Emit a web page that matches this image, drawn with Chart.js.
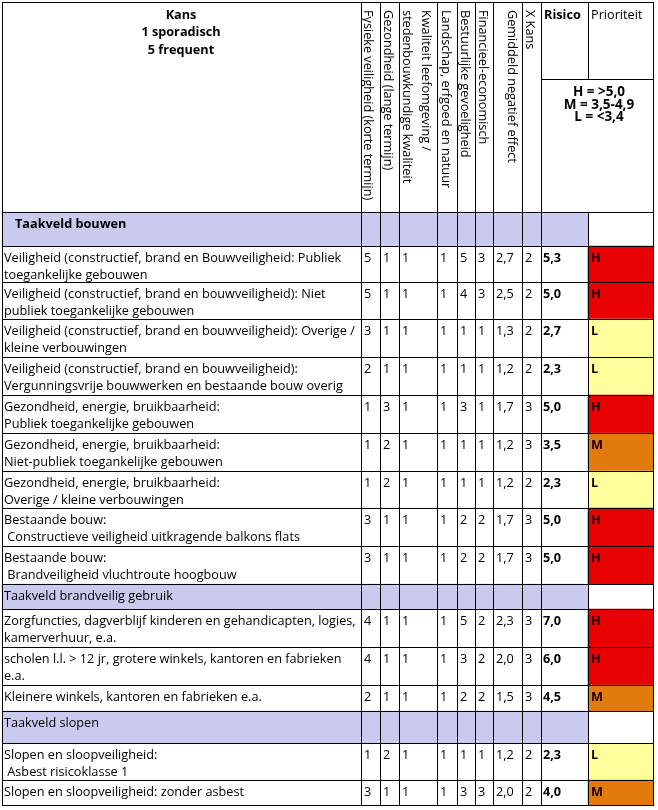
<!DOCTYPE html>
<html lang="nl">
<head>
<meta charset="utf-8">
<title>Risicoanalyse taakvelden</title>
<script src="https://cdn.jsdelivr.net/npm/chart.js@4/dist/chart.umd.min.js"></script>
<style>
  html, body { margin: 0; padding: 0; background: #fff; }
  canvas { display: block; }
</style>
</head>
<body>
<canvas id="tabel" width="658" height="810"></canvas>
<script>
// rijen van de tabel; de taakveld-koppen hebben geen scores
const omschrijving = [
  'Taakveld bouwen',
  'Veiligheid (constructief, brand en Bouwveiligheid: Publiek\ntoegankelijke gebouwen',
  'Veiligheid (constructief, brand en bouwveiligheid): Niet\npubliek toegankelijke gebouwen',
  'Veiligheid (constructief, brand en bouwveiligheid): Overige /\nkleine verbouwingen',
  'Veiligheid (constructief, brand en bouwveiligheid):\nVergunningsvrije bouwwerken en bestaande bouw overig',
  'Gezondheid, energie, bruikbaarheid:\nPubliek toegankelijke gebouwen',
  'Gezondheid, energie, bruikbaarheid:\nNiet-publiek toegankelijke gebouwen',
  'Gezondheid, energie, bruikbaarheid:\nOverige / kleine verbouwingen',
  'Bestaande bouw:\n Constructieve veiligheid uitkragende balkons flats',
  'Bestaande bouw:\n Brandveiligheid vluchtroute hoogbouw',
  'Taakveld brandveilig gebruik',
  'Zorgfuncties, dagverblijf kinderen en gehandicapten, logies,\nkamerverhuur, e.a.',
  'scholen l.l. > 12 jr, grotere winkels, kantoren en fabrieken\ne.a.',
  'Kleinere winkels, kantoren en fabrieken e.a.',
  'Taakveld slopen',
  'Slopen en sloopveiligheid:\n Asbest risicoklasse 1',
  'Slopen en sloopveiligheid: zonder asbest'
];
const taakveldRijen = [0, 10, 14];

const fysiek      = [null, 5, 5, 3, 2, 1, 1, 1, 3, 3, null, 4, 4, 2, null, 1, 3];
const gezondheid  = [null, 1, 1, 1, 1, 3, 2, 2, 1, 1, null, 1, 1, 1, null, 2, 1];
const kwaliteit   = [null, 1, 1, 1, 1, 1, 1, 1, 1, 1, null, 1, 1, 1, null, 1, 1];
const landschap   = [null, 1, 1, 1, 1, 1, 1, 1, 1, 1, null, 1, 1, 1, null, 1, 1];
const bestuurlijk = [null, 5, 4, 1, 1, 3, 1, 1, 2, 2, null, 5, 3, 2, null, 1, 3];
const financieel  = [null, 3, 3, 1, 1, 1, 1, 1, 2, 2, null, 2, 2, 2, null, 1, 3];
const gemiddeld   = [null, 2.7, 2.5, 1.3, 1.2, 1.7, 1.2, 1.2, 1.7, 1.7, null, 2.3, 2.0, 1.5, null, 1.2, 2.0];
const kans        = [null, 2, 2, 2, 2, 3, 3, 2, 3, 3, null, 3, 3, 3, null, 2, 2];
const risico      = [null, 5.3, 5.0, 2.7, 2.3, 5.0, 3.5, 2.3, 5.0, 5.0, null, 7.0, 6.0, 4.5, null, 2.3, 4.0];
const prioriteit  = [null, 'H', 'H', 'L', 'L', 'H', 'M', 'L', 'H', 'H', null, 'H', 'H', 'M', null, 'L', 'M'];

const kansTitel = ['Kans', '1 sporadisch', '5 frequent'];
const effectTitels = [
  ['Fysieke veiligheid (korte termijn)'],
  ['Gezondheid (lange termijn)'],
  ['Kwaliteit leefomgeving /', 'stedenbouwkundige kwaliteit'],
  ['Landschap, erfgoed en natuur'],
  ['Bestuurlijke gevoeligheid'],
  ['Financieel-economisch'],
  ['Gemiddeld negatief effect'],
  ['X Kans']
];
const legenda = ['H = >5,0', 'M = 3,5-4,9', 'L = <3,4'];

// opmaak
const kleurPrio = { H: '#e80000', M: '#e27a0c', L: '#ffff9b' };
const kleurTaakveld = '#c9caee';
const kolomRanden = [2, 361, 380, 399, 437, 457, 475, 493, 522, 541, 588, 653];
const rijRanden = [212, 246, 282, 319, 357, 395, 433, 471, 508, 546, 584, 609, 647, 685, 711, 743, 780, 805];
const kopBoven = 2, kopSplitsing = 79;
const titelX = [[368], [388], [426, 407], [446], [465], [483], [512], [530]];
const font = '"Open Sans", "Noto Sans", sans-serif';
const gewoon = '12.7px ' + font;
const vet = 'bold 12.7px ' + font;

const scoreKolommen = [fysiek, gezondheid, kwaliteit, landschap, bestuurlijk, financieel, gemiddeld, kans];
const komma = v => v.toFixed(1).replace('.', ',');

const prioMidden = (kolomRanden[10] + kolomRanden[11]) / 2;
const taakveldMidden = (kolomRanden[0] + kolomRanden[10]) / 2;

const prioData = [];
const prioKleuren = [];
prioriteit.forEach((p, i) => {
  if (p) {
    prioData.push({ x: prioMidden, y: [rijRanden[i], rijRanden[i + 1]] });
    prioKleuren.push(kleurPrio[p]);
  }
});
const taakveldData = taakveldRijen.map(i => ({ x: taakveldMidden, y: [rijRanden[i], rijRanden[i + 1]] }));

const tabelPlugin = {
  id: 'tabel',
  beforeDraw(chart) {
    const ctx = chart.ctx;
    ctx.save();
    ctx.fillStyle = '#fff';
    ctx.fillRect(0, 0, chart.width, chart.height);
    ctx.restore();
  },
  afterDatasetsDraw(chart) {
    const { ctx, scales: { x, y } } = chart;
    const px = v => Math.round(x.getPixelForValue(v)) + 0.5;
    const py = v => Math.round(y.getPixelForValue(v)) + 0.5;
    const tx = v => x.getPixelForValue(v);
    const ty = v => y.getPixelForValue(v);

    ctx.save();
    // rasterlijnen
    ctx.strokeStyle = '#000';
    ctx.lineWidth = 1;
    ctx.beginPath();
    const onder = rijRanden[rijRanden.length - 1];
    [kopBoven, ...rijRanden].forEach(r => {
      ctx.moveTo(px(kolomRanden[0]) - 0.5, py(r));
      ctx.lineTo(px(kolomRanden[11]) + 0.5, py(r));
    });
    ctx.moveTo(px(kolomRanden[9]), py(kopSplitsing));
    ctx.lineTo(px(kolomRanden[11]), py(kopSplitsing));
    kolomRanden.forEach((k, i) => {
      if (i === 10) {
        ctx.moveTo(px(k), py(kopBoven));
        ctx.lineTo(px(k), py(kopSplitsing));
        ctx.moveTo(px(k), py(rijRanden[0]));
        ctx.lineTo(px(k), py(onder));
      } else {
        ctx.moveTo(px(k), py(kopBoven));
        ctx.lineTo(px(k), py(onder));
      }
    });
    ctx.stroke();

    ctx.fillStyle = '#000';
    ctx.textBaseline = 'middle';

    // kop: kans
    ctx.font = vet;
    ctx.textAlign = 'center';
    kansTitel.forEach((t, i) => ctx.fillText(t, tx(181), ty(15 + i * 17.5)));

    // kop: effecten, verticaal
    ctx.font = gewoon;
    ctx.textAlign = 'left';
    effectTitels.forEach((regels, k) => {
      regels.forEach((t, j) => {
        ctx.save();
        ctx.translate(tx(titelX[k][j]), ty(10));
        ctx.rotate(Math.PI / 2);
        ctx.fillText(t, 0, 0);
        ctx.restore();
      });
    });

    ctx.font = vet;
    ctx.fillText('Risico', tx(kolomRanden[9] + 3), ty(15));
    ctx.font = gewoon;
    ctx.fillText('Prioriteit', tx(kolomRanden[10] + 3), ty(15));

    // legenda prioriteit
    ctx.font = 'bold 13.5px ' + font;
    ctx.textAlign = 'center';
    const legMidden = (kolomRanden[9] + kolomRanden[11]) / 2 + 2;
    legenda.forEach((t, i) => ctx.fillText(t, tx(legMidden), ty(92.5 + i * 12.5)));

    // rijen
    ctx.textAlign = 'left';
    omschrijving.forEach((tekst, i) => {
      const boven = rijRanden[i];
      const taakveld = taakveldRijen.includes(i);
      if (i === 0) {
        ctx.font = vet;
        ctx.fillText(tekst, tx(kolomRanden[0] + 13), ty(boven + 12.5));
        return;
      }
      ctx.font = gewoon;
      tekst.split('\n').forEach((r, j) => ctx.fillText(r, tx(kolomRanden[0] + 2), ty(boven + 12.5 + j * 16.5)));
      if (taakveld) return;
      scoreKolommen.forEach((kol, k) => {
        const v = kol[i];
        const t = k === 6 ? komma(v) : String(v);
        ctx.fillText(t, tx(kolomRanden[k + 1] + 3), ty(boven + 12));
      });
      ctx.font = vet;
      ctx.fillText(komma(risico[i]), tx(kolomRanden[9] + 2), ty(boven + 12));
      ctx.fillStyle = '#1a0000';
      ctx.fillText(prioriteit[i], tx(kolomRanden[10] + 3), ty(boven + 12));
      ctx.fillStyle = '#000';
    });
    ctx.restore();
  }
};

new Chart(document.getElementById('tabel'), {
  type: 'bar',
  data: {
    datasets: [
      { label: 'Taakveld', data: taakveldData, backgroundColor: kleurTaakveld,
        barThickness: kolomRanden[10] - kolomRanden[0], borderWidth: 0 },
      { label: 'Prioriteit', data: prioData, backgroundColor: prioKleuren,
        barThickness: kolomRanden[11] - kolomRanden[10], borderWidth: 0 }
    ]
  },
  options: {
    responsive: false,
    animation: false,
    devicePixelRatio: 1,
    layout: { padding: 0 },
    datasets: { bar: { grouped: false } },
    plugins: { legend: { display: false }, tooltip: { enabled: false } },
    scales: {
      x: { type: 'linear', min: 0, max: 658, offset: false, display: false },
      y: { type: 'linear', min: 0, max: 810, reverse: true, display: false }
    }
  },
  plugins: [tabelPlugin]
});
</script>
</body>
</html>
